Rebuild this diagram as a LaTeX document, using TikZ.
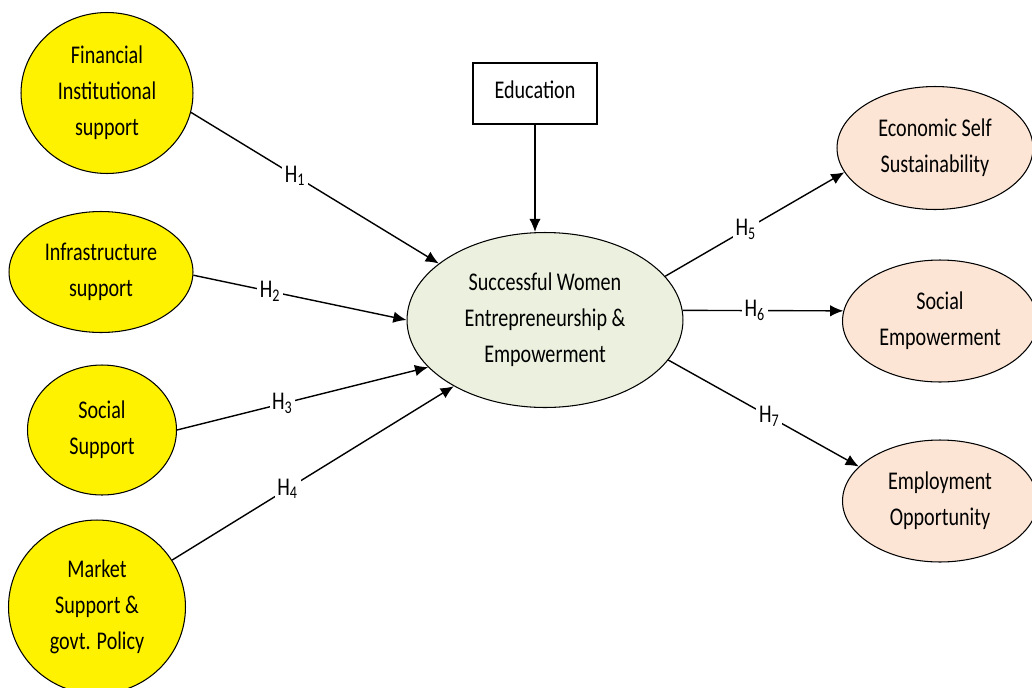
\documentclass[tikz,border=0pt]{standalone}
\usepackage{fontspec}
\setmainfont{Carlito}[FakeStretch=0.79]
\usetikzlibrary{arrows.meta,shapes.geometric}

\definecolor{swefill}{RGB}{235,241,222}
\definecolor{outfill}{RGB}{252,229,213}

\begin{document}
\begin{tikzpicture}[x=0.02cm,y=-0.02cm,
    every node/.style={font=\fontsize{14.5}{20.5}\selectfont,align=center},
    factor/.style={draw,ellipse,fill=yellow,inner sep=0,line width=0.6pt},
    outcome/.style={draw,ellipse,fill=outfill,inner sep=0,line width=0.6pt},
    edge/.style={line width=0.8pt,-{Latex[length=7.5pt,width=6.5pt]}},
    hlab/.style={fill=white,inner sep=1.5pt}]
        \useasboundingbox (0,0) rectangle (1032,687);

        % Factors
        \node[factor,minimum width=3.44cm,minimum height=3.22cm] (fin) at (107,93) {Financial\\Institutional\\support};
        \node[factor,minimum width=3.68cm,minimum height=2.42cm] (inf) at (101,272) {Infrastructure\\support};
        \node[factor,minimum width=2.98cm,minimum height=2.60cm] (soc) at (102,430) {Social\\Support};
        \node[factor,minimum width=3.54cm,minimum height=3.48cm] (mkt) at (97,607) {Market\\Support \&\\govt. Policy};

        % Centre
        \node[draw,ellipse,fill=swefill,inner sep=0,line width=0.6pt,minimum width=5.52cm,minimum height=3.5cm] (swe) at (545,320) {Successful Women\\Entrepreneurship \&\\Empowerment};
        \node[draw,rectangle,fill=white,line width=0.6pt,minimum width=2.48cm,minimum height=1.22cm,text depth=0.9ex] (edu) at (535,93.5) {Education};

        % Outcomes
        \node[outcome,minimum width=3.92cm,minimum height=2.46cm] (eco) at (935,148) {Economic Self\\Sustainability};
        \node[outcome,minimum width=3.9cm,minimum height=2.44cm] (semp) at (940,321) {Social\\Empowerment};
        \node[outcome,minimum width=3.9cm,minimum height=2.44cm] (emp) at (940,501) {Employment\\Opportunity};

        % Edges
        \draw[edge] (edu) -- (swe.north -| edu);

        \foreach \u/\a/\b/\p/\k in {fin/-13/152/0.42/1, inf/-2/180/0.36/2, soc/0/202/0.42/3, mkt/32/216/0.41/4} {
            \draw[edge] (\u.\a) -- node[hlab,pos=\p] {H\textsubscript{\k}} (swe.\b);
        }

        \foreach \v/\a/\b/\p/\k in {eco/20/195/0.45/5, semp/4/174/0.45/6, emp/-18/157/0.53/7} {
            \draw[edge] (swe.\a) -- node[hlab,pos=\p] {H\textsubscript{\k}} (\v.\b);
        }
    \end{tikzpicture}
\end{document}
